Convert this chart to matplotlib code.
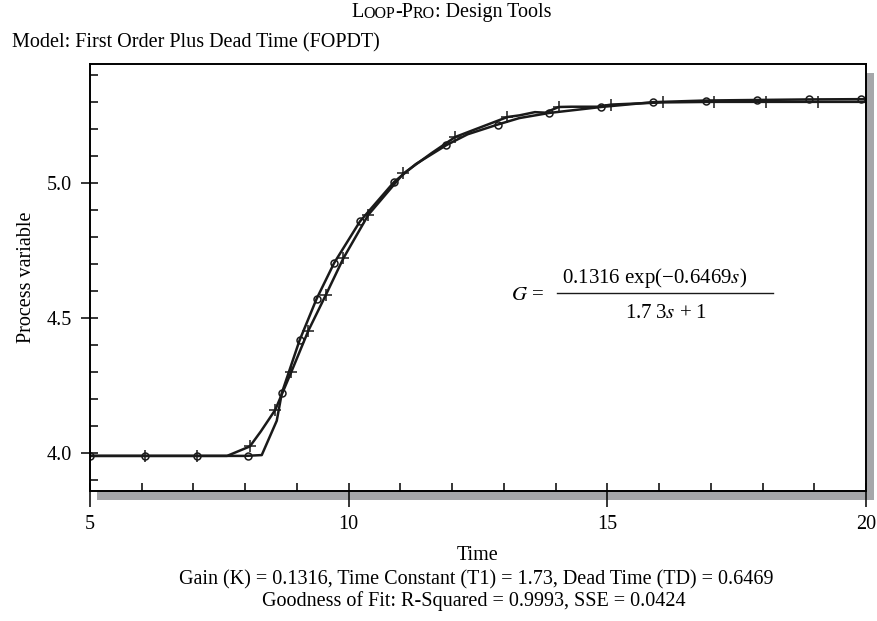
import matplotlib
matplotlib.use("Agg")
import matplotlib.pyplot as plt
from matplotlib.patches import Rectangle
from matplotlib.lines import Line2D
from matplotlib.ticker import MultipleLocator, FormatStrFormatter

plt.rcParams['font.family'] = ['Liberation Serif', 'DejaVu Serif']
plt.rcParams['mathtext.fontset'] = 'stix'

# 实测数据曲线 (+)
t_data = [5.0, 6.06, 7.06, 7.65, 8.09, 8.30, 8.58, 8.89, 9.22, 9.56, 9.90, 10.38,
          11.06, 11.6, 12.06, 12.4, 13.07, 13.3, 13.6, 13.8, 14.06, 14.3, 14.8,
          15.08, 16.07, 17.06, 18.06, 19.08, 20.0]
y_data = [3.99, 3.99, 3.99, 3.99, 4.025, 4.08, 4.16, 4.30, 4.453, 4.586, 4.722, 4.882,
          5.035, 5.11, 5.17, 5.195, 5.244, 5.25, 5.262, 5.26, 5.281, 5.282, 5.282,
          5.29, 5.298, 5.30, 5.30, 5.30, 5.30]
t_data_marks = [5.0, 6.06, 7.06, 8.09, 8.58, 8.89, 9.22, 9.56, 9.90, 10.38, 11.06,
                12.06, 13.07, 14.06, 15.08, 16.07, 17.06, 18.06, 19.08]
y_data_marks = [3.99, 3.99, 3.99, 4.025, 4.16, 4.30, 4.453, 4.586, 4.722, 4.882, 5.035,
                5.17, 5.244, 5.281, 5.29, 5.298, 5.30, 5.30, 5.30]

# FOPDT 模型曲线 (o)
t_model = [5.0, 8.0, 8.32, 8.61, 8.71, 9.05, 9.38, 9.72, 10.22, 10.88, 11.3, 11.89,
           12.3, 12.88, 13.3, 13.88, 14.88, 15.89, 16.90, 17.89, 18.89, 19.91, 20.0]
y_model = [3.99, 3.99, 3.993, 4.12, 4.224, 4.417, 4.571, 4.704, 4.858, 5.004, 5.07, 5.14,
           5.18, 5.216, 5.24, 5.259, 5.281, 5.299, 5.305, 5.307, 5.309, 5.31, 5.31]
t_model_marks = [5.0, 6.06, 7.06, 8.06, 8.71, 9.05, 9.38, 9.72, 10.22, 10.88, 11.89,
                 12.88, 13.88, 14.88, 15.89, 16.90, 17.89, 18.89, 19.91]
y_model_marks = [3.99, 3.99, 3.99, 3.99, 4.224, 4.417, 4.571, 4.704, 4.858, 5.004, 5.14,
                 5.216, 5.259, 5.281, 5.299, 5.305, 5.307, 5.309, 5.31]

line_color = '#1a1a1a'
shadow_color = '#a6a7aa'

fig = plt.figure(figsize=(8.78, 6.21), dpi=100)
ax = fig.add_axes([0.1025, 0.2093, 0.8838, 0.6876])

ax.plot(t_data, y_data, color=line_color, lw=1.8, zorder=3)
ax.plot(t_model, y_model, color=line_color, lw=1.8, zorder=3)
ax.plot(t_data_marks, y_data_marks, ls='none', marker='+', ms=9, mew=1.1,
        color=line_color, zorder=4)
ax.plot(t_model_marks, y_model_marks, ls='none', marker='o', ms=5, mew=1.1,
        mfc='none', mec=line_color, zorder=4)

ax.set_xlim(5, 20)
ax.set_ylim(3.86, 5.44)

# 刻度
ax.xaxis.set_major_locator(MultipleLocator(5))
ax.xaxis.set_minor_locator(MultipleLocator(1))
ax.yaxis.set_major_locator(MultipleLocator(0.5))
ax.yaxis.set_minor_locator(MultipleLocator(0.1))
ax.yaxis.set_major_formatter(FormatStrFormatter('%.1f'))
ax.xaxis.remove_overlapping_locs = False
ax.yaxis.remove_overlapping_locs = False
ax.tick_params(axis='x', which='major', direction='out', length=11.5, width=1.1,
               pad=6, labelsize=14.5, top=False)
ax.tick_params(axis='x', which='minor', direction='in', length=6, width=1.1, top=False)
ax.tick_params(axis='y', which='major', direction='out', length=6.7, width=1.1,
               pad=6, labelsize=14.5, right=False)
ax.tick_params(axis='y', which='minor', direction='in', length=6, width=1.1, right=False)
for sp in ax.spines.values():
    sp.set_linewidth(1.4)
    sp.set_zorder(5)

ax.set_ylabel('Process variable', fontsize=14.5, labelpad=8)

# 阴影
dx = 8 / 776
dy = 9 / 427
ax.add_patch(Rectangle((1.0, -dy), dx, 1.0, transform=ax.transAxes,
                       color=shadow_color, clip_on=False, zorder=1, lw=0))
ax.add_patch(Rectangle((7 / 776, -dy), 1.0 - 7 / 776 + dx, dy, transform=ax.transAxes,
                       color=shadow_color, clip_on=False, zorder=1, lw=0))

# 传递函数
fig.text(528 / 878, 1 - 295 / 621, r'$G$ =', fontsize=15, ha='center', va='center')
fig.text(655 / 878, 1 - 278 / 621, r'0.1316 exp(−0.6469$s$)', fontsize=15,
         ha='center', va='center')
fig.text(666 / 878, 1 - 313 / 621, '1.7\u20093$s$ +\u20091', fontsize=15,
         ha='center', va='center')
fig.add_artist(Line2D([557 / 878, 773 / 878], [1 - 293 / 621, 1 - 293 / 621],
                      transform=fig.transFigure, color=line_color, lw=1.0))

# 标题 (小型大写)
t1 = fig.text(0.40, 1 - 22 / 621, 'L', fontsize=14.5, va='bottom')
pieces = [('OOP', 11.5), ('-P', 14.5), ('RO', 11.5), (': Design Tools', 14.5)]
prev = t1
for s, size in pieces:
    prev = ax.annotate(s, xy=(1, 0), xycoords=prev, fontsize=size, va='bottom', ha='left',
                       annotation_clip=False)

fig.text(12 / 878, 1 - 43 / 621, 'Model: First Order Plus Dead Time (FOPDT)',
         fontsize=14.5, ha='left', va='center')

fig.text(478 / 878, 1 - 555 / 621, 'Time', fontsize=14.5, ha='center', va='center')
fig.text(476 / 878, 1 - 580 / 621,
         'Gain (K) = 0.1316, Time Constant (T1) = 1.73, Dead Time (TD) = 0.6469',
         fontsize=14.5, ha='center', va='center')
fig.text(474 / 878, 1 - 601 / 621,
         'Goodness of Fit: R-Squared = 0.9993, SSE = 0.0424',
         fontsize=14.5, ha='center', va='center')

fig.savefig('out.png', dpi=100)
